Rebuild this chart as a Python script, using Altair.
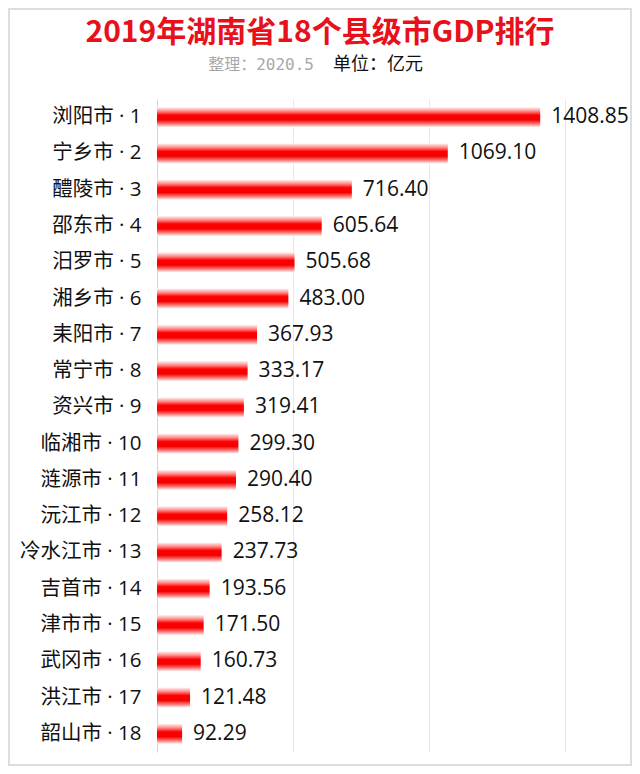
import altair as alt
import pandas as pd

cities = ["浏阳市", "宁乡市", "醴陵市", "邵东市", "汨罗市", "湘乡市", "耒阳市", "常宁市", "资兴市",
          "临湘市", "涟源市", "沅江市", "冷水江市", "吉首市", "津市市", "武冈市", "洪江市", "韶山市"]
values = [1408.85, 1069.10, 716.40, 605.64, 505.68, 483.00, 367.93, 333.17, 319.41,
          299.30, 290.40, 258.12, 237.73, 193.56, 171.50, 160.73, 121.48, 92.29]
ranks = list(range(1, 19))
grid_values = [0, 500, 1000, 1500]

title_text = "2019年湖南省18个县级市GDP排行"
sub_left = "整理：2020.5"
sub_right = "单位：亿元"

df = pd.DataFrame({
    "label": [f"{c} · {r}" for c, r in zip(cities, ranks)],
    "value": values,
    "vtext": [f"{v:.2f}" for v in values],
})
order = list(df["label"])

FONT = "Open Sans, Noto Sans CJK SC"
CJK = "Noto Sans CJK SC"

W, H = 408, 653

y_enc = alt.Y("label:N", sort=order,
              scale=alt.Scale(paddingInner=0.45, paddingOuter=0.225),
              axis=alt.Axis(title=None, ticks=False, domain=True, domainColor="#d4d4d4",
                            labelFontSize=20.5, labelColor="#111111", labelFont=FONT,
                            labelPadding=16, grid=False))
x_enc = alt.X("value:Q", scale=alt.Scale(domain=[0, 1500], nice=False),
              axis=alt.Axis(title=None, labels=False, ticks=False, domain=False,
                            values=grid_values, grid=True, gridColor="#e8e8e8", gridWidth=1))

grad = alt.Gradient(
    gradient="linear", x1=0, x2=0, y1=0, y2=1,
    stops=[
        alt.GradientStop(color="#fff2f2", offset=0),
        alt.GradientStop(color="#ff8a8a", offset=0.2),
        alt.GradientStop(color="#ff0000", offset=0.4),
        alt.GradientStop(color="#f20000", offset=0.64),
        alt.GradientStop(color="#ff7a7a", offset=0.84),
        alt.GradientStop(color="#fff2f2", offset=1),
    ],
)

bars = alt.Chart(df).mark_bar(color=grad).encode(x=x_enc, y=y_enc)

texts = alt.Chart(df).mark_text(align="left", baseline="middle", dx=11, fontSize=21,
                                font=FONT, color="#111111").encode(
    x="value:Q", y=alt.Y("label:N", sort=order), text="vtext:N")

title_df = pd.DataFrame({"t": [title_text]})
title = alt.Chart(title_df).mark_text(align="center", baseline="middle", fontSize=30,
                                      fontWeight="bold", font=CJK, color="#e8101a").encode(
    text="t:N", x=alt.value(163), y=alt.value(-66))

subl = alt.Chart(pd.DataFrame({"t": [sub_left]})).mark_text(
    align="right", baseline="middle", fontSize=16, font="DejaVu Sans Mono, Noto Sans CJK SC",
    fontWeight="normal", color="#a8a8a8").encode(
    text="t:N", x=alt.value(157), y=alt.value(-34))
subr = alt.Chart(pd.DataFrame({"t": [sub_right]})).mark_text(
    align="left", baseline="middle", fontSize=18, font=CJK, fontWeight="normal",
    color="#111111").encode(
    text="t:N", x=alt.value(176), y=alt.value(-34))

frame = alt.Chart(pd.DataFrame({"t": [0]})).mark_rect(
    fill="transparent", stroke="#dddddd", strokeWidth=2).encode(
    x=alt.value(-148), x2=alt.value(474), y=alt.value(-90), y2=alt.value(666))

chart = alt.layer(frame, bars, texts, title, subl, subr).resolve_scale(y="shared").properties(
    width=W, height=H,
    autosize=alt.AutoSizeParams(type="none"),
    padding={"left": 149, "top": 91, "right": 67, "bottom": 14},
    background="white",
).configure_view(stroke=None)

chart.save("out.html", embed_options={"renderer": "svg", "actions": False})
